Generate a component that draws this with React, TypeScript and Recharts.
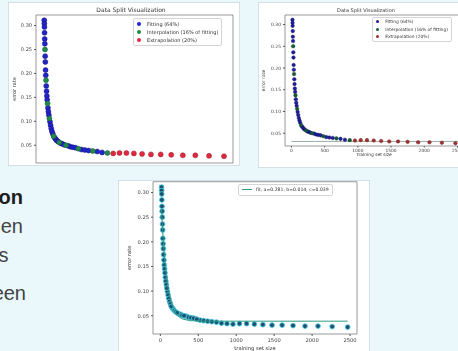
import React from 'react';
import { ScatterChart, Scatter, XAxis, YAxis, ReferenceArea, Legend, Label } from 'recharts';

// ---------- data ----------
const fittingSize = [15.3, 16.7, 18.2, 19.8, 21.6, 23.5, 28.0, 30.5, 33.2, 36.2, 43.0, 46.9, 51.1, 55.7, 66.2, 72.1, 78.6, 93.4, 101.8, 111.0, 121.0, 131.9, 156.7, 170.8, 186.1, 202.9, 241.0, 262.7, 286.4, 340.2, 370.9, 404.2, 440.6, 523.5, 570.6, 622.0, 739.0, 805.5];
const fittingError = [0.311, 0.304, 0.297, 0.285, 0.272, 0.262, 0.236, 0.224, 0.207, 0.196, 0.174, 0.163, 0.153, 0.145, 0.128, 0.12, 0.113, 0.099, 0.092, 0.085, 0.079, 0.074, 0.066, 0.063, 0.06, 0.058, 0.054, 0.053, 0.051, 0.049, 0.047, 0.046, 0.045, 0.041, 0.04, 0.039, 0.037, 0.035];
const interpSize = [25.7, 39.5, 60.7, 85.7, 143.7, 221.1, 312.1, 480.3, 678.0, 878.0];
const interpError = [0.25, 0.186, 0.137, 0.106, 0.069, 0.056, 0.05, 0.043, 0.038, 0.034];
const extrapSize = [957, 1043, 1137, 1239, 1351, 1472, 1605, 1749, 1907, 2078, 2265, 2469];
const extrapError = [0.033, 0.034, 0.034, 0.033, 0.032, 0.031, 0.031, 0.03, 0.029, 0.029, 0.028, 0.027];
const fitCurveSize = [15, 25, 40, 60, 80, 100, 130, 160, 200, 250, 300, 400, 600, 1000, 1500, 2000, 2469];
const fitCurveError = [0.267, 0.237, 0.199, 0.16, 0.131, 0.108, 0.085, 0.069, 0.056, 0.047, 0.043, 0.04, 0.039, 0.039, 0.039, 0.039, 0.039];
const plateauSize = [0, 2600];
const plateauError = [0.031, 0.031];
const errorTicks = [0.05, 0.1, 0.15, 0.2, 0.25, 0.3];
const sizeTicks = [0, 500, 1000, 1500, 2000, 2500];
const seriesNames = ['Fitting (64%)', 'Interpolation (16% of fitting)', 'Extrapolation (20%)'];
const fitLabel = 'fit, a=0.281, b=0.014, c=0.039';
const chartTitle = 'Data Split Visualization';
const xLabel = 'training set size';
const yLabel = 'error rate';
const sideText = ['on', 'en', 's', 'een'];

// ---------- helpers ----------
const zip = (xs: number[], ys: number[]) => xs.map((x, i) => ({ x, y: ys[i] }));
const fittingData = zip(fittingSize, fittingError);
const interpData = zip(interpSize, interpError);
const extrapData = zip(extrapSize, extrapError);
const allPointsData = zip([...fittingSize, ...interpSize, ...extrapSize], [...fittingError, ...interpError, ...extrapError]);
const fitCurveData = zip(fitCurveSize, fitCurveError);
const plateauData = zip(plateauSize, plateauError);

const X_DOMAIN: [number, number] = [-97, 2592];
const Y_DOMAIN: [number, number] = [0.013, 0.322];
const Y_DOMAIN_2: [number, number] = [0.0205, 0.322];
const FONT = '"DejaVu Sans", sans-serif';

const dot = (r: number, fill: string, stroke: string, sw: number) => (p: any) =>
  p.cx == null ? <g /> : <circle cx={p.cx} cy={p.cy} r={r} fill={fill} stroke={stroke} strokeWidth={sw} />;
const noDot = () => <g />;

const order = (v: string) => {
  const i = seriesNames.indexOf(v);
  return i < 0 ? 99 : i;
};

const legendContent = (o: { fs: number; rowH: number; r: number; gap: number; line?: boolean; pad: string }) => (props: any) => {
  const items = (props.payload || [])
    .filter((p: any) => p.type !== 'none')
    .slice()
    .sort((a: any, b: any) => order(a.value) - order(b.value));
  return (
    <div style={{ border: '1px solid #d4d4d4', borderRadius: 2, background: 'rgba(255,255,255,0.85)', padding: o.pad, fontFamily: FONT, fontSize: o.fs, color: '#333', whiteSpace: 'nowrap' }}>
      {items.map((it: any) => (
        <div key={it.value} style={{ display: 'flex', alignItems: 'center', height: o.rowH }}>
          {o.line ? (
            <span style={{ display: 'inline-block', width: 10, height: 0, borderTop: `1px solid ${it.color}`, marginRight: o.gap }} />
          ) : (
            <span style={{ display: 'inline-block', width: o.r * 2, height: o.r * 2, borderRadius: '50%', background: it.color, marginRight: o.gap }} />
          )}
          <span>{it.value}</span>
        </div>
      ))}
    </div>
  );
};

const panel = (l: number, t: number, w: number, h: number): React.CSSProperties => ({
  position: 'absolute', left: l, top: t, width: w, height: h, background: '#fff',
  border: '1px solid #d3e1e6', overflow: 'hidden', boxSizing: 'border-box',
});
const inner = (l: number, t: number): React.CSSProperties => ({ position: 'absolute', left: -(l + 1), top: -(t + 1), filter: 'blur(0.3px)' });

const tickStyle = (fs: number) => ({ fontSize: fs, fill: '#444', fontFamily: FONT });
const fmt = (v: number) => v.toFixed(2);

function Title({ cx, cy, fs }: { cx: number; cy: number; fs: number }) {
  return (
    <div style={{ position: 'absolute', left: cx - 60, top: cy - 5, width: 120, height: 10, lineHeight: '10px', textAlign: 'center', fontFamily: FONT, fontSize: fs, color: '#333', filter: 'blur(0.3px)' }}>
      {chartTitle}
    </div>
  );
}

const sideFont = '"Liberation Sans", Arial, sans-serif';

export default function App() {
  return (
    <div style={{ position: 'absolute', left: 0, top: 0, width: 458, height: 351, overflow: 'hidden', background: '#eaf8fc' }}>
      {/* left slide text fragments */}
      <div style={{ position: 'absolute', right: 458 - 23, top: 187, fontFamily: sideFont, fontSize: 20, lineHeight: '20px', fontWeight: 700, color: '#1e1e1e', whiteSpace: 'nowrap' }}>{sideText[0]}</div>
      <div style={{ position: 'absolute', right: 458 - 23, top: 216, fontFamily: sideFont, fontSize: 20, lineHeight: '20px', color: '#444', whiteSpace: 'nowrap' }}>{sideText[1]}</div>
      <div style={{ position: 'absolute', right: 458 - 8.5, top: 245, fontFamily: sideFont, fontSize: 20, lineHeight: '20px', color: '#444', whiteSpace: 'nowrap' }}>{sideText[2]}</div>
      <div style={{ position: 'absolute', right: 458 - 26, top: 283, fontFamily: sideFont, fontSize: 20, lineHeight: '20px', color: '#444', whiteSpace: 'nowrap' }}>{sideText[3]}</div>

      {/* chart 1 */}
      <div style={panel(8, 2, 232, 164)}>
        <div style={inner(8, 2)}>
          <ScatterChart width={240} height={200} margin={{ top: 15, right: 7, bottom: 17, left: 0 }}>
            <XAxis type="number" dataKey="x" domain={X_DOMAIN} ticks={sizeTicks} allowDataOverflow height={20} tickSize={2} axisLine={false} stroke="#555" tick={false} />
            <YAxis type="number" dataKey="y" domain={Y_DOMAIN} ticks={errorTicks} allowDataOverflow width={36} tickSize={2} axisLine={false} stroke="#555" tick={tickStyle(5)} tickFormatter={fmt}>
              <Label value={yLabel} angle={-90} position="insideLeft" offset={14} style={{ textAnchor: 'middle', fontSize: 5, fontFamily: FONT, fill: '#333' }} />
            </YAxis>
            <ReferenceArea x1={X_DOMAIN[0]} x2={X_DOMAIN[1]} y1={Y_DOMAIN[0]} y2={Y_DOMAIN[1]} fill="none" stroke="#555" strokeWidth={0.6} fillOpacity={0} ifOverflow="visible" />
            <Scatter name={seriesNames[0]} data={fittingData} fill="#2323cc" shape={dot(2.5, '#2323cc', '#15157a', 0.5)} isAnimationActive={false} />
            <Scatter name={seriesNames[1]} data={interpData} fill="#1f8a4c" shape={dot(2.5, '#1f8a4c', '#145a32', 0.5)} isAnimationActive={false} />
            <Scatter name={seriesNames[2]} data={extrapData} fill="#e0283e" shape={dot(2.5, '#e0283e', '#9a1a2a', 0.5)} isAnimationActive={false} />
            <Legend layout="vertical" align="center" verticalAlign="middle" wrapperStyle={{ left: 133, top: 18, width: 'auto' }} content={legendContent({ fs: 5, rowH: 8.3, r: 2, gap: 6, pad: '0.5px 3px' })} />
          </ScatterChart>
        </div>
      </div>
      <Title cx={131} cy={10} fs={6} />

      {/* chart 2 */}
      <div style={panel(258, 2, 210, 166)}>
        <div style={inner(258, 2)}>
          <ScatterChart width={470} height={200} margin={{ top: 15, right: 6.4, bottom: 34, left: 258 }}>
            <XAxis type="number" dataKey="x" domain={X_DOMAIN} ticks={sizeTicks} allowDataOverflow height={20} tickSize={1.5} tickMargin={1} axisLine={false} stroke="#555" tick={tickStyle(4.4)}>
              <Label value={xLabel} position="insideBottom" offset={10} style={{ fontSize: 4.4, fontFamily: FONT, fill: '#333' }} />
            </XAxis>
            <YAxis type="number" dataKey="y" domain={Y_DOMAIN_2} ticks={errorTicks} allowDataOverflow width={27} tickSize={2} axisLine={false} stroke="#555" tick={tickStyle(4.5)} tickFormatter={fmt}>
              <Label value={yLabel} angle={-90} position="insideLeft" offset={5} style={{ textAnchor: 'middle', fontSize: 4.5, fontFamily: FONT, fill: '#333' }} />
            </YAxis>
            <ReferenceArea x1={X_DOMAIN[0]} x2={X_DOMAIN[1]} y1={Y_DOMAIN_2[0]} y2={Y_DOMAIN_2[1]} fill="none" stroke="#555" strokeWidth={0.6} fillOpacity={0} ifOverflow="visible" />
            <Scatter data={plateauData} fill="#7f9a8c" legendType="none" line={{ stroke: '#7f9a8c', strokeWidth: 0.8 }} shape={noDot} isAnimationActive={false} />
            <Scatter name={seriesNames[0]} data={fittingData} fill="#1e1e9c" shape={dot(1.8, '#1e1e9c', '#10105a', 0.4)} isAnimationActive={false} />
            <Scatter name={seriesNames[1]} data={interpData} fill="#145c38" shape={dot(1.8, '#145c38', '#0c3a22', 0.4)} isAnimationActive={false} />
            <Scatter name={seriesNames[2]} data={extrapData} fill="#a3302e" shape={dot(1.8, '#a3302e', '#6a1e1e', 0.4)} isAnimationActive={false} />
            <Legend layout="vertical" align="center" verticalAlign="middle" wrapperStyle={{ left: 372, top: 16.5, width: 'auto' }} content={legendContent({ fs: 4.4, rowH: 7.5, r: 1.6, gap: 6, pad: '0.5px 3px' })} />
          </ScatterChart>
        </div>
      </div>
      <Title cx={366} cy={10} fs={5} />

      {/* chart 3 */}
      <div style={panel(118, 180, 252, 176)}>
        <div style={inner(118, 180)}>
          <ScatterChart width={370} height={360} margin={{ top: 181.7, right: 13, bottom: 6, left: 118 }}>
            <XAxis type="number" dataKey="x" domain={X_DOMAIN} ticks={sizeTicks} allowDataOverflow height={20} tickSize={2} axisLine={false} stroke="#555" tick={tickStyle(5.2)}>
              <Label value={xLabel} position="insideBottom" offset={4} style={{ fontSize: 5.2, fontFamily: FONT, fill: '#333' }} />
            </XAxis>
            <YAxis type="number" dataKey="y" domain={Y_DOMAIN} ticks={errorTicks} allowDataOverflow width={35} tickSize={2} axisLine={false} stroke="#555" tick={tickStyle(5.2)} tickFormatter={fmt}>
              <Label value={yLabel} angle={-90} position="insideLeft" offset={11} style={{ textAnchor: 'middle', fontSize: 5.2, fontFamily: FONT, fill: '#333' }} />
            </YAxis>
            <ReferenceArea x1={X_DOMAIN[0]} x2={X_DOMAIN[1]} y1={Y_DOMAIN[0]} y2={Y_DOMAIN[1]} fill="none" stroke="#555" strokeWidth={0.6} fillOpacity={0} ifOverflow="visible" />
            <Scatter data={allPointsData} fill="#1d4f6e" legendType="none" shape={dot(2.4, '#1d4f6e', '#45c8dc', 0.9)} isAnimationActive={false} />
            <Scatter name={fitLabel} data={fitCurveData} fill="#2f9a86" line={{ stroke: '#2f9a86', strokeWidth: 1 }} shape={noDot} isAnimationActive={false} />
            <Legend layout="vertical" align="center" verticalAlign="middle" wrapperStyle={{ left: 238, top: 183.5, width: 'auto' }} content={legendContent({ fs: 4.6, rowH: 10, r: 2, gap: 4, line: true, pad: '0px 3px' })} />
          </ScatterChart>
        </div>
      </div>
    </div>
  );
}
